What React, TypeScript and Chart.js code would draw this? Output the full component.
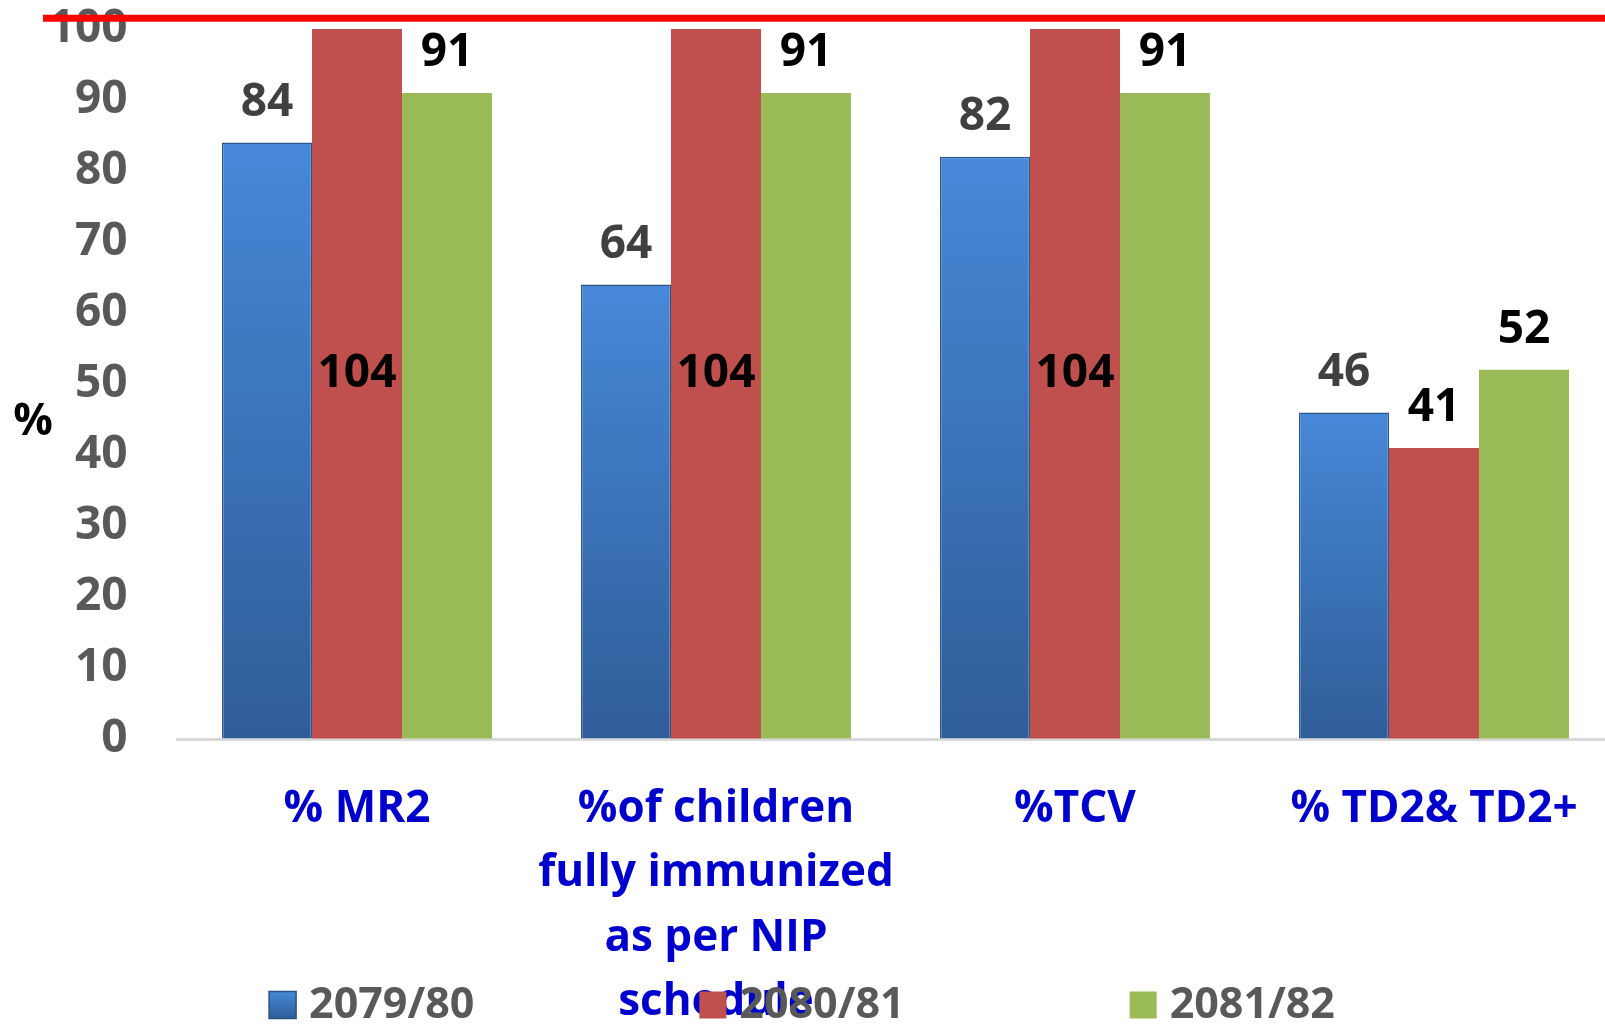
import React, { useEffect, useRef } from 'react';
import { Chart, registerables } from 'chart.js';

Chart.register(...registerables);

// ---- data ----
const CATEGORIES: string[][] = [
  ['% MR2'],
  ['%of children', 'fully immunized', 'as per NIP', 'schedule'],
  ['%TCV'],
  ['% TD2& TD2+'],
];
const SERIES_LABELS = ['2079/80', '2080/81', '2081/82'];
const SERIES_2079_80 = [84, 64, 82, 46];
const SERIES_2080_81 = [104, 104, 104, 41];
const SERIES_2081_82 = [91, 91, 91, 52];
const Y_MIN = 0;
const Y_MAX = 100;
const Y_STEP = 10;
const TARGET_LINE_VALUE = 101.5;
const Y_TITLE = '%';

// ---- styles ----
const FONT = "'Open Sans', 'DejaVu Sans', sans-serif";
const RED = '#c0504d';
const GREEN = '#9bbb59';
const BLUE_TOP = '#4688d8';
const BLUE_BOTTOM = '#2f5d98';
const LABEL_COLORS = ['#404040', '#000000', '#000000'];

function blueGradient(ctx: CanvasRenderingContext2D, top: number, bottom: number) {
  if (!isFinite(top) || !isFinite(bottom) || top === bottom) return BLUE_TOP;
  const g = ctx.createLinearGradient(0, top, 0, bottom);
  g.addColorStop(0, BLUE_TOP);
  g.addColorStop(1, BLUE_BOTTOM);
  return g;
}

const decorPlugin = {
  id: 'decor',
  afterDatasetsDraw(chart: any) {
    const ctx = chart.ctx as CanvasRenderingContext2D;
    const y = chart.scales.y;
    ctx.save();
    ctx.font = `bold 46px ${FONT}`;
    ctx.textAlign = 'center';
    ctx.textBaseline = 'middle';
    chart.data.datasets.forEach((ds: any, i: number) => {
      const meta = chart.getDatasetMeta(i);
      meta.data.forEach((bar: any, j: number) => {
        const v = ds.data[j];
        const cy = v > y.max ? y.getPixelForValue(v / 2) + 4 : bar.y - 40;
        ctx.fillStyle = LABEL_COLORS[i];
        ctx.fillText(String(v), bar.x, cy);
      });
    });
    ctx.restore();
  },
  afterDraw(chart: any) {
    const ctx = chart.ctx as CanvasRenderingContext2D;
    const y = chart.scales.y;
    ctx.save();
    // target line
    const py = y.getPixelForValue(TARGET_LINE_VALUE);
    ctx.strokeStyle = '#ff0000';
    ctx.lineWidth = 7;
    ctx.beginPath();
    ctx.moveTo(43, py);
    ctx.lineTo(chart.width, py);
    ctx.stroke();

    // y title
    ctx.fillStyle = '#000000';
    ctx.font = `bold 44px ${FONT}`;
    ctx.textAlign = 'center';
    ctx.textBaseline = 'middle';
    ctx.fillText(Y_TITLE, 33, 422);

    // legend
    ctx.font = `bold 43px ${FONT}`;
    const box = 27;
    const gap = 13;
    const itemGap = 225;
    const widths = SERIES_LABELS.map((l) => box + gap + ctx.measureText(l).width);
    const total = widths.reduce((a, b) => a + b, 0) + itemGap * (widths.length - 1);
    let x = 802 - total / 2;
    const cy = 1005;
    const colors: any[] = [blueGradient(ctx, cy - box / 2, cy + box / 2), RED, GREEN];
    SERIES_LABELS.forEach((l, i) => {
      ctx.fillStyle = colors[i];
      ctx.fillRect(x, cy - box / 2, box, box);
      if (i === 0) {
        ctx.strokeStyle = '#2a5285';
        ctx.lineWidth = 1.5;
        ctx.strokeRect(x, cy - box / 2, box, box);
      }
      ctx.fillStyle = '#595959';
      ctx.textAlign = 'left';
      ctx.fillText(l, x + box + gap, cy + 1);
      x += widths[i] + itemGap;
    });
    ctx.restore();
  },
};

export default function App() {
  const ref = useRef<HTMLCanvasElement>(null);
  useEffect(() => {
    if (!ref.current) return;
    const chart = new Chart(ref.current, {
      type: 'bar',
      data: {
        labels: CATEGORIES as any,
        datasets: [
          {
            label: SERIES_LABELS[0],
            data: SERIES_2079_80,
            backgroundColor: (c: any) => {
              const ys = c.chart.scales?.y;
              if (!ys || c.raw == null) return BLUE_TOP;
              return blueGradient(c.chart.ctx, ys.getPixelForValue(c.raw), ys.getPixelForValue(0));
            },
            borderColor: '#2c5689',
            borderWidth: 1.5,
          },
          { label: SERIES_LABELS[1], data: SERIES_2080_81, backgroundColor: RED, borderWidth: 0 },
          { label: SERIES_LABELS[2], data: SERIES_2081_82, backgroundColor: GREEN, borderWidth: 0 },
        ],
      },
      options: {
        animation: false,
        responsive: false,
        maintainAspectRatio: false,
        layout: { padding: { top: 29, right: 11.5, bottom: 0, left: 0 } },
        plugins: { legend: { display: false }, tooltip: { enabled: false } },
        datasets: { bar: { categoryPercentage: 0.752, barPercentage: 1.0 } } as any,
        scales: {
          x: {
            grid: { display: true, drawOnChartArea: false, drawTicks: true, tickLength: 38, tickColor: 'rgba(0,0,0,0)' },
            border: { display: true, color: '#d9d9d9', width: 3 },
            ticks: {
              color: '#0000cc',
              font: { family: FONT, size: 44, weight: 'bold', lineHeight: 64.5 / 44 },
              padding: 0,
              maxRotation: 0,
              minRotation: 0,
              autoSkip: false,
            },
            afterFit: (s: any) => {
              s.height = 286;
            },
          },
          y: {
            min: Y_MIN,
            max: Y_MAX,
            grid: { display: true, drawOnChartArea: false, drawTicks: true, tickLength: 50, tickColor: 'rgba(0,0,0,0)' },
            border: { display: false },
            ticks: {
              stepSize: Y_STEP,
              color: '#595959',
              font: { family: FONT, size: 46, weight: 'bold' },
              padding: 0,
            },
            afterFit: (s: any) => {
              s.width = 177.5;
            },
          },
        },
      },
      plugins: [decorPlugin],
    });
    return () => chart.destroy();
  }, []);
  return (
    <div style={{ position: 'fixed', left: 0, top: 0, width: 1625, height: 1025, background: '#ffffff' }}>
      <canvas ref={ref} width={1625} height={1025} style={{ display: 'block' }} />
    </div>
  );
}
